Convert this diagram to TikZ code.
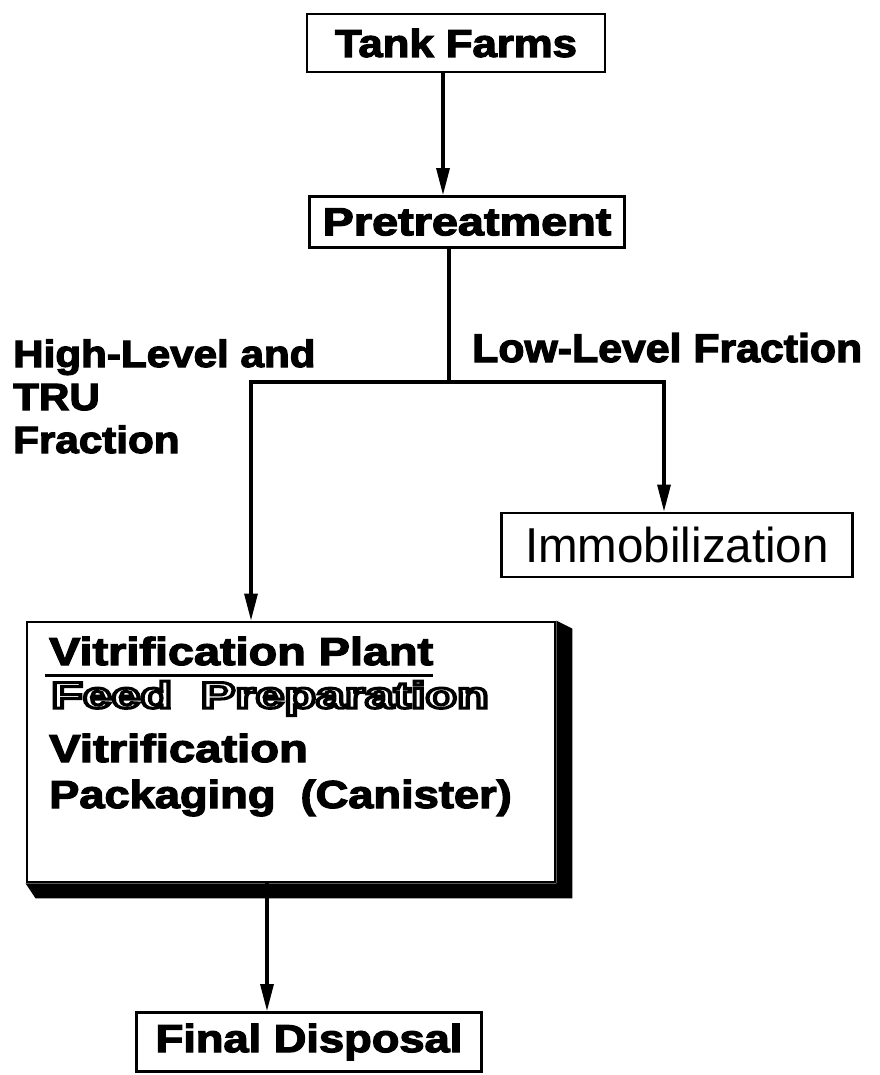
\documentclass[tikz,border=0pt]{standalone}
\usepackage{fontspec}
\setmainfont{Liberation Sans}[BoldFeatures={FakeBold=3}]
\newfontfamily\outlinefont{Liberation Sans}
\usetikzlibrary{arrows.meta}
\newcommand\bsx[3]{\scalebox{#1}[1]{\fontsize{#2}{#2}\selectfont\bfseries #3}}
\newcommand\outl[1]{\special{pdf:literal direct 1 Tr 3 w}#1\special{pdf:literal direct 0 Tr}}
\begin{document}
\begin{tikzpicture}[x=1pt,y=-1pt,
  box/.style={draw, line width=2.8pt, inner sep=0pt, fill=white},
  lbl/.style={inner sep=0pt, anchor=base west},
  arr/.style={line width=3.2pt, line join=miter, -{Triangle[length=27pt,width=13pt]}},
  wire/.style={line width=3.2pt}]
\useasboundingbox (0,0) rectangle (879,1075);

% vitrification plant box (drawn first)
\node[box, minimum width=528pt, minimum height=260pt] (vit) at (291,752) {};
\fill (vit.north east) -- ++(16,8) |- ([xshift=10pt,yshift=-15pt]vit.south west) -- (vit.south west) -- (vit.south east) -- cycle;
\node[lbl] (fp) at (51,708) {\scalebox{1.4}[1]{\fontsize{37}{37}\selectfont\outlinefont\bfseries\outl{Feed\ \ Preparation}}};

% boxes
\node[box, minimum width=298pt, minimum height=58pt] (tank) at (456,43) {\bsx{1.12}{39}{Tank Farms}};
\node[box, minimum width=315pt, minimum height=51pt] (pre) at (467,222) {\bsx{1.2}{39}{Pretreatment}};
\node[box, minimum width=351pt, minimum height=64pt] (imm) at (677,545) {\scalebox{0.97}[1]{\fontsize{49}{49}\selectfont Immobilization}};
\node[box, minimum width=345pt, minimum height=59pt] (fin) at (309,1042) {\bsx{1.16}{39}{Final Disposal}};

% labels
\node[lbl] (hl1) at (13,367) {\bsx{1.11}{38}{High-Level and}};
\node[lbl] (hl2) at (13,410) {\bsx{1.11}{38}{TRU}};
\node[lbl] (hl3) at (13,453) {\bsx{1.11}{38}{Fraction}};
\node[lbl] (ll) at (472,362) {\bsx{1.07}{40}{Low-Level Fraction}};

% vitrification plant content
\node[lbl] (vp) at (49,665) {\bsx{1.2}{39}{Vitrification Plant}};
\draw[line width=3pt] ([xshift=-4pt,yshift=-10pt]vp.base west) -- ([yshift=-10pt]vp.base east);
\node[lbl] (vt) at (49,762) {\bsx{1.21}{39}{Vitrification}};
\node[lbl] (pk) at (49,808) {\bsx{1.16}{39}{Packaging\ \ (Canister)}};

% connectors
\coordinate (a1) at (443,0);
\draw[arr] (tank.south -| a1) -- (pre.north -| a1);
\coordinate (j) at (449,382);
\coordinate (jl) at (251,382);
\coordinate (jr) at (664,382);
\draw[wire] (pre.south -| j) -- (j);
\draw[arr] (j) -- (jl) -- (vit.north -| jl);
\draw[arr] (j) -- (jr) -- (imm.north -| jr);
\coordinate (cf) at (267,0);
\draw[arr] (vit.south -| cf) -- (fin.north -| cf);
\end{tikzpicture}
\end{document}
